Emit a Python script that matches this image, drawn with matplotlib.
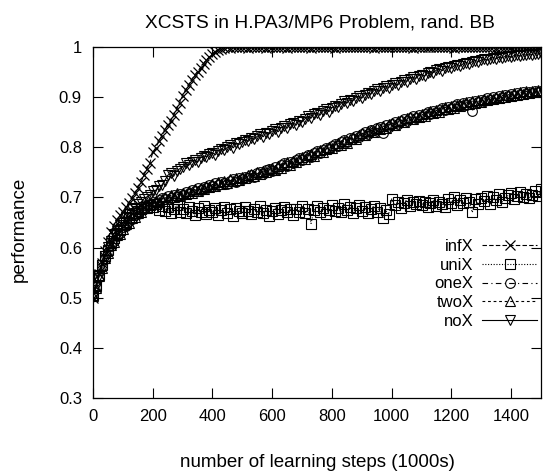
import numpy as np
import matplotlib
matplotlib.use('Agg')
import matplotlib.pyplot as plt

plt.rcParams['font.family'] = ['Liberation Sans', 'DejaVu Sans']

# learning steps (1000s), one sample every 10
steps = list(range(0, 1501, 10))

infX = [0.500, 0.522, 0.548, 0.570, 0.594, 0.612, 0.632, 0.644, 0.655, 0.664,
        0.671, 0.680, 0.689, 0.699, 0.708, 0.718, 0.730, 0.744, 0.757, 0.768,
        0.790, 0.799, 0.812, 0.823, 0.834, 0.845, 0.853, 0.864, 0.876, 0.889,
        0.903, 0.914, 0.924, 0.934, 0.944, 0.951, 0.959, 0.967, 0.974, 0.981,
        0.987, 0.991, 0.995, 0.997, 0.999, 1.000, 0.999, 1.000, 1.000, 1.000,
        1.000, 1.000, 0.999, 1.000, 1.000, 1.000, 1.000, 1.000, 0.999, 1.000,
        1.000, 1.000, 1.000, 1.000, 1.000, 0.999, 1.000, 1.000, 1.000, 1.000,
        1.000, 1.000, 1.000, 0.999, 1.000, 1.000, 1.000, 1.000, 1.000, 1.000,
        1.000, 0.999, 1.000, 1.000, 1.000, 1.000, 1.000, 1.000, 1.000, 1.000,
        1.000, 1.000, 1.000, 1.000, 0.999, 1.000, 1.000, 1.000, 1.000, 1.000,
        1.000, 1.000, 1.000, 1.000, 1.000, 1.000, 1.000, 0.999, 1.000, 1.000,
        1.000, 1.000, 1.000, 1.000, 1.000, 1.000, 1.000, 1.000, 1.000, 1.000,
        1.000, 0.999, 1.000, 1.000, 1.000, 1.000, 1.000, 1.000, 1.000, 1.000,
        1.000, 1.000, 1.000, 1.000, 1.000, 0.999, 1.000, 1.000, 1.000, 1.000,
        1.000, 1.000, 1.000, 1.000, 1.000, 1.000, 1.000, 1.000, 1.000, 1.000,
        1.000]

uniX = [0.505, 0.524, 0.546, 0.565, 0.583, 0.596, 0.609, 0.619, 0.630, 0.636,
        0.645, 0.651, 0.658, 0.664, 0.668, 0.673, 0.676, 0.681, 0.678, 0.684,
        0.681, 0.686, 0.675, 0.683, 0.672, 0.680, 0.669, 0.677, 0.684, 0.671,
        0.676, 0.668, 0.681, 0.673, 0.664, 0.678, 0.670, 0.682, 0.667, 0.675,
        0.671, 0.679, 0.665, 0.674, 0.681, 0.669, 0.676, 0.663, 0.678, 0.672,
        0.668, 0.680, 0.673, 0.666, 0.677, 0.671, 0.683, 0.669, 0.675, 0.662,
        0.673, 0.679, 0.666, 0.674, 0.681, 0.670, 0.677, 0.664, 0.676, 0.671,
        0.683, 0.668, 0.677, 0.648, 0.674, 0.682, 0.671, 0.679, 0.667, 0.675,
        0.684, 0.672, 0.679, 0.670, 0.686, 0.675, 0.681, 0.669, 0.678, 0.684,
        0.673, 0.680, 0.668, 0.676, 0.683, 0.671, 0.679, 0.658, 0.674, 0.666,
        0.697, 0.684, 0.691, 0.679, 0.688, 0.695, 0.682, 0.690, 0.686, 0.692,
        0.684, 0.691, 0.680, 0.688, 0.695, 0.683, 0.690, 0.686, 0.681, 0.697,
        0.689, 0.701, 0.684, 0.694, 0.688, 0.699, 0.691, 0.670, 0.696, 0.686,
        0.698, 0.692, 0.703, 0.687, 0.700, 0.695, 0.706, 0.691, 0.699, 0.704,
        0.709, 0.696, 0.703, 0.711, 0.700, 0.707, 0.698, 0.705, 0.712, 0.703,
        0.716]

oneX = [0.508, 0.522, 0.541, 0.562, 0.578, 0.592, 0.604, 0.613, 0.624, 0.630,
        0.641, 0.644, 0.653, 0.657, 0.664, 0.667, 0.674, 0.676, 0.683, 0.685,
        0.691, 0.688, 0.694, 0.699, 0.696, 0.702, 0.698, 0.705, 0.701, 0.707,
        0.704, 0.711, 0.707, 0.714, 0.712, 0.718, 0.715, 0.721, 0.719, 0.725,
        0.722, 0.728, 0.724, 0.731, 0.729, 0.726, 0.733, 0.737, 0.731, 0.739,
        0.736, 0.741, 0.738, 0.745, 0.741, 0.748, 0.751, 0.747, 0.754, 0.757,
        0.753, 0.760, 0.757, 0.764, 0.768, 0.763, 0.771, 0.768, 0.775, 0.778,
        0.774, 0.781, 0.785, 0.780, 0.788, 0.792, 0.788, 0.795, 0.799, 0.796,
        0.803, 0.807, 0.802, 0.811, 0.815, 0.811, 0.819, 0.816, 0.823, 0.820,
        0.826, 0.831, 0.827, 0.834, 0.830, 0.838, 0.841, 0.828, 0.844, 0.841,
        0.847, 0.851, 0.846, 0.853, 0.857, 0.852, 0.859, 0.862, 0.858, 0.864,
        0.861, 0.867, 0.870, 0.866, 0.872, 0.869, 0.875, 0.878, 0.874, 0.880,
        0.877, 0.883, 0.886, 0.882, 0.888, 0.885, 0.890, 0.872, 0.893, 0.891,
        0.895, 0.892, 0.898, 0.894, 0.900, 0.897, 0.903, 0.899, 0.904, 0.902,
        0.906, 0.903, 0.908, 0.905, 0.910, 0.907, 0.911, 0.909, 0.912, 0.910,
        0.913]

twoX = [0.503, 0.519, 0.544, 0.559, 0.580, 0.589, 0.606, 0.611, 0.626, 0.628,
        0.638, 0.647, 0.650, 0.659, 0.661, 0.669, 0.671, 0.679, 0.680, 0.687,
        0.686, 0.693, 0.691, 0.697, 0.701, 0.697, 0.704, 0.700, 0.708, 0.703,
        0.709, 0.706, 0.713, 0.709, 0.716, 0.713, 0.719, 0.717, 0.723, 0.720,
        0.726, 0.723, 0.730, 0.727, 0.733, 0.729, 0.736, 0.732, 0.738, 0.735,
        0.741, 0.738, 0.744, 0.747, 0.743, 0.750, 0.746, 0.753, 0.750, 0.756,
        0.759, 0.755, 0.762, 0.759, 0.766, 0.770, 0.765, 0.773, 0.770, 0.777,
        0.780, 0.776, 0.784, 0.787, 0.783, 0.791, 0.794, 0.790, 0.797, 0.801,
        0.798, 0.805, 0.809, 0.805, 0.813, 0.809, 0.817, 0.820, 0.816, 0.824,
        0.828, 0.824, 0.832, 0.835, 0.831, 0.839, 0.836, 0.843, 0.839, 0.846,
        0.849, 0.845, 0.852, 0.855, 0.851, 0.858, 0.861, 0.857, 0.863, 0.860,
        0.866, 0.863, 0.869, 0.872, 0.868, 0.874, 0.871, 0.877, 0.880, 0.876,
        0.882, 0.879, 0.885, 0.882, 0.887, 0.890, 0.886, 0.892, 0.889, 0.894,
        0.891, 0.897, 0.894, 0.899, 0.896, 0.901, 0.898, 0.904, 0.901, 0.905,
        0.903, 0.908, 0.905, 0.910, 0.907, 0.912, 0.909, 0.913, 0.911, 0.914,
        0.912]

noX = [0.502, 0.521, 0.543, 0.566, 0.583, 0.601, 0.613, 0.627, 0.634, 0.646,
       0.650, 0.661, 0.666, 0.676, 0.679, 0.687, 0.690, 0.697, 0.701, 0.704,
       0.712, 0.714, 0.722, 0.724, 0.733, 0.744, 0.748, 0.742, 0.753, 0.757,
       0.761, 0.768, 0.764, 0.771, 0.775, 0.770, 0.779, 0.783, 0.781, 0.786,
       0.789, 0.785, 0.793, 0.797, 0.794, 0.800, 0.804, 0.799, 0.808, 0.806,
       0.811, 0.815, 0.812, 0.819, 0.816, 0.822, 0.826, 0.821, 0.829, 0.827,
       0.832, 0.836, 0.831, 0.839, 0.843, 0.838, 0.846, 0.849, 0.844, 0.853,
       0.851, 0.857, 0.862, 0.858, 0.866, 0.869, 0.864, 0.872, 0.876, 0.871,
       0.879, 0.883, 0.880, 0.887, 0.892, 0.888, 0.895, 0.893, 0.899, 0.902,
       0.898, 0.905, 0.909, 0.906, 0.913, 0.916, 0.912, 0.919, 0.922, 0.919,
       0.925, 0.928, 0.924, 0.931, 0.934, 0.931, 0.937, 0.940, 0.937, 0.943,
       0.945, 0.942, 0.948, 0.951, 0.949, 0.954, 0.956, 0.953, 0.959, 0.961,
       0.958, 0.963, 0.965, 0.962, 0.967, 0.969, 0.967, 0.971, 0.973, 0.971,
       0.974, 0.976, 0.974, 0.977, 0.979, 0.977, 0.980, 0.979, 0.981, 0.982,
       0.980, 0.983, 0.984, 0.982, 0.985, 0.984, 0.986, 0.985, 0.987, 0.986,
       0.988]

fig = plt.figure(figsize=(5.43, 4.72), dpi=100)
ax = fig.add_axes([93 / 543, 1 - 398 / 472, 448 / 543, 351 / 472])

lw = 0.8
ax.plot(steps, infX, color='black', lw=lw, ls=(0, (4, 2)), marker='x',
        ms=7, mew=0.9, label='infX')
ax.plot(steps, uniX, color='black', lw=lw, ls=(0, (1, 1.5)), marker='s',
        ms=6.5, mew=0.8, mfc='none', label='uniX')
ax.plot(steps, oneX, color='black', lw=lw, ls=(0, (5, 3, 1, 3)), marker='o',
        ms=7, mew=0.8, mfc='none', label='oneX')
ax.plot(steps, twoX, color='black', lw=lw, ls=(0, (2.5, 2.5)), marker='^',
        ms=7, mew=0.8, mfc='none', label='twoX')
ax.plot(steps, noX, color='black', lw=lw, ls='-', marker='v',
        ms=7, mew=0.8, mfc='none', label='noX')

ax.set_xlim(0, 1500)
ax.set_ylim(0.3, 1.0)
ax.set_xticks([0, 200, 400, 600, 800, 1000, 1200, 1400])
ax.set_yticks([0.3, 0.4, 0.5, 0.6, 0.7, 0.8, 0.9, 1.0])
ax.set_yticklabels(['0.3', '0.4', '0.5', '0.6', '0.7', '0.8', '0.9', '1'])
ax.tick_params(direction='in', top=True, right=True, length=7, width=0.8,
               labelsize=12, pad=8)
for s in ax.spines.values():
    s.set_linewidth(0.9)

fig.text(320 / 543, 1 - 27 / 472, 'XCSTS in H.PA3/MP6 Problem, rand. BB',
         ha='center', va='baseline', fontsize=13.8)
fig.text(317 / 543, 1 - 467 / 472, 'number of learning steps (1000s)',
         ha='center', va='baseline', fontsize=13.5)
fig.text(19 / 543, 1 - 229 / 472, 'performance', rotation=90,
         ha='center', va='center', fontsize=13.5)

ax.legend(loc='upper right', bbox_to_anchor=(537 / 543, 1 - 239 / 472),
          bbox_transform=fig.transFigure, frameon=False, markerfirst=False,
          numpoints=1, fontsize=12, handlelength=3.3, handletextpad=0.5,
          labelspacing=0.22, borderpad=0, borderaxespad=0)

fig.savefig('out.png', dpi=100)
